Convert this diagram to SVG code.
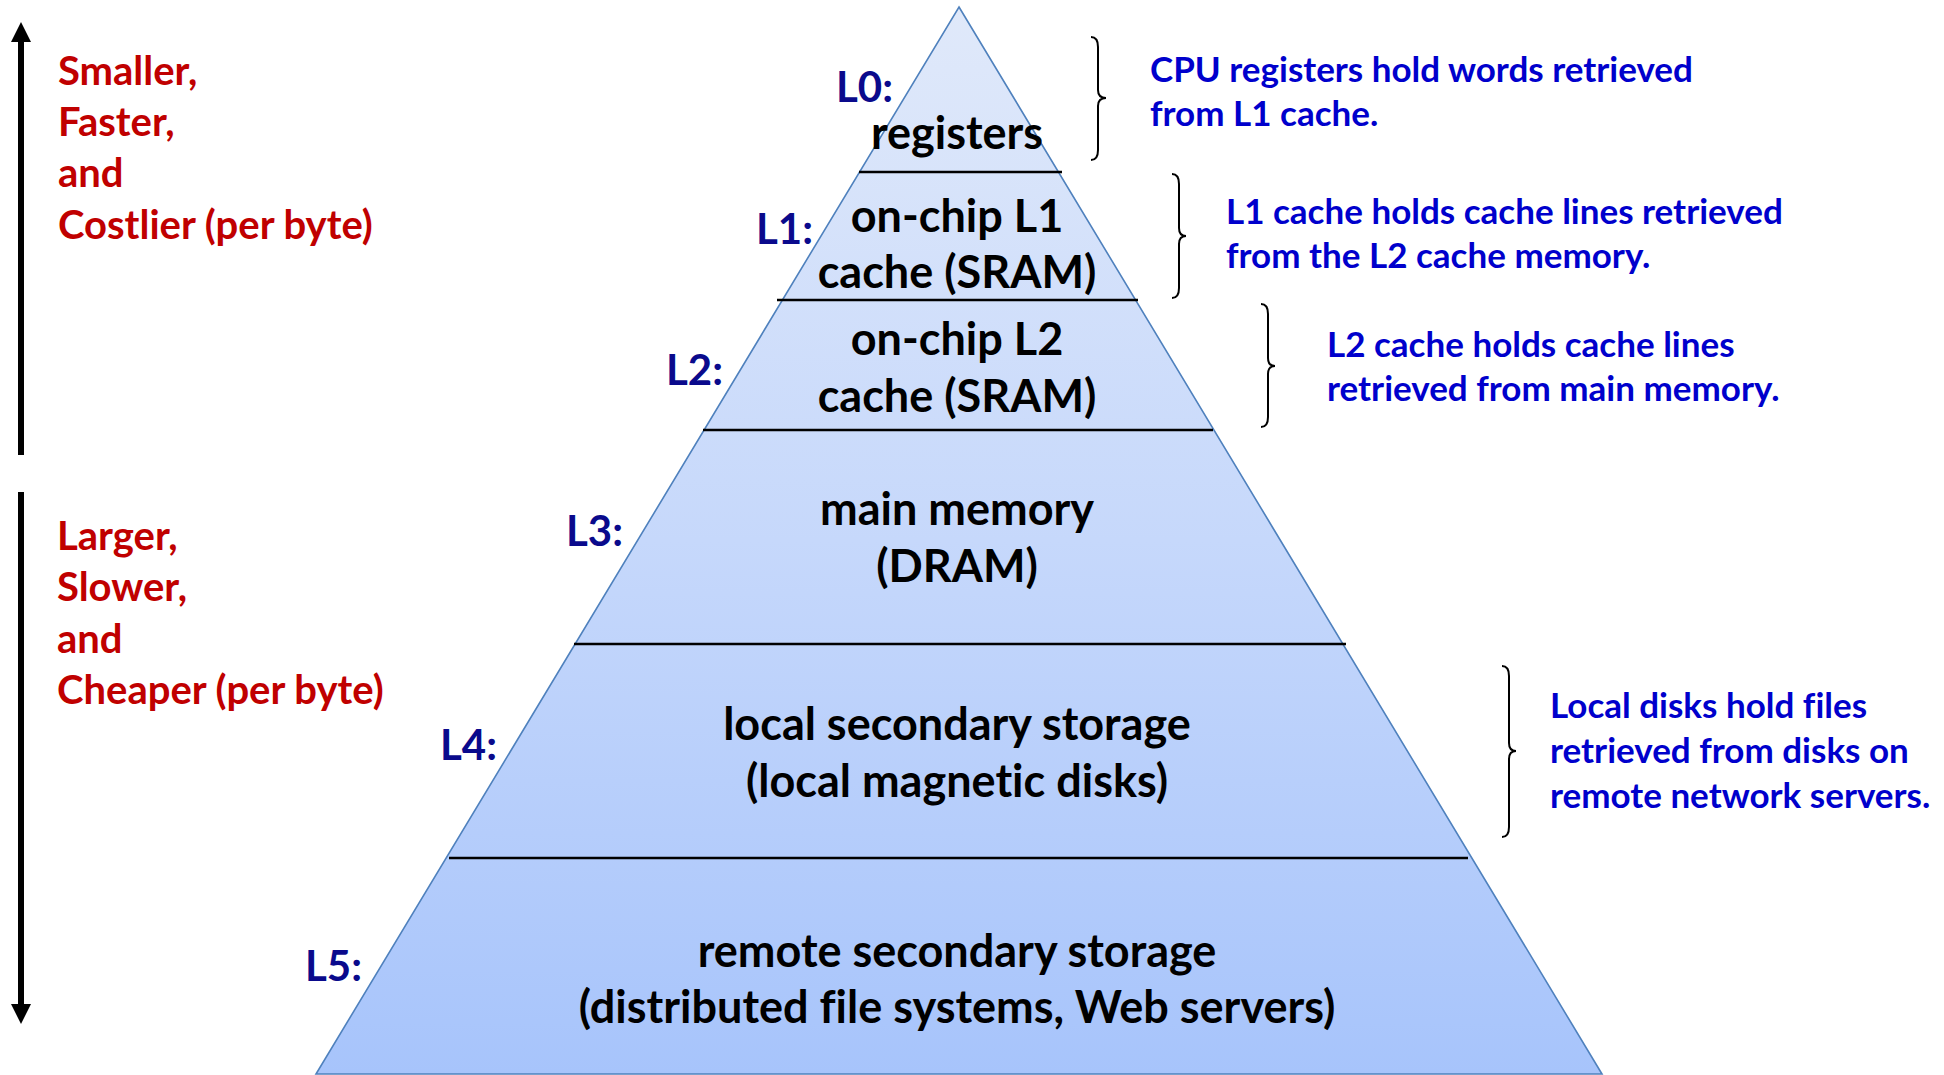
<svg xmlns="http://www.w3.org/2000/svg" width="1944" height="1075" viewBox="0 0 1944 1075">
<defs>
<linearGradient id="pg" gradientUnits="userSpaceOnUse" x1="0" y1="7" x2="0" y2="1074">
<stop offset="0" stop-color="#e0e9fa"/>
<stop offset="0.5" stop-color="#c6d8fb"/>
<stop offset="1" stop-color="#a7c4fb"/>
</linearGradient>
<marker id="ah" viewBox="0 0 20 20" refX="0" refY="10" markerWidth="20" markerHeight="20" markerUnits="userSpaceOnUse" orient="auto">
<path d="M0,0 L20,10 L0,20 Z" fill="#000"/>
</marker>
<style>
.t{font-family:Lato,"Open Sans","Liberation Sans",sans-serif;font-weight:700;font-variant-ligatures:none;font-feature-settings:"liga" 0,"clig" 0}
.blk{font-size:45px;fill:#000;text-anchor:middle}
.lvl{font-size:42px;fill:#0a0a8c}
.red{font-size:40px;fill:#c00000}
.blu{font-size:35px;fill:#0000cc}
.div{stroke:#000;stroke-width:2.5}
.br{fill:none;stroke:#000;stroke-width:2}
</style>
</defs>
<g id="pyramid">
<polygon points="959,7 1602,1074 316,1074" fill="url(#pg)" stroke="#4f81bd" stroke-width="1.6"/>
</g>
<g id="L0" class="t">
<text class="lvl" x="836" y="102">L0:</text>
<text class="blk" x="957" y="149">registers</text>
</g>
<g id="L1" class="t">
<line class="div" x1="859" y1="172" x2="1062" y2="172"/>
<text class="lvl" x="756" y="244">L1:</text>
<text class="blk" x="957" y="232">on-chip L1</text>
<text class="blk" x="957" y="288">cache (SRAM)</text>
</g>
<g id="L2" class="t">
<line class="div" x1="777" y1="300" x2="1138" y2="300"/>
<text class="lvl" x="666" y="385">L2:</text>
<text class="blk" x="957" y="355">on-chip L2</text>
<text class="blk" x="957" y="412">cache (SRAM)</text>
</g>
<g id="L3" class="t">
<line class="div" x1="703" y1="430" x2="1213" y2="430"/>
<text class="lvl" x="566" y="546">L3:</text>
<text class="blk" x="957" y="525">main memory</text>
<text class="blk" x="957" y="582">(DRAM)</text>
</g>
<g id="L4" class="t">
<line class="div" x1="574" y1="644" x2="1346" y2="644"/>
<text class="lvl" x="440" y="760">L4:</text>
<text class="blk" x="957" y="740">local secondary storage</text>
<text class="blk" x="957" y="797">(local magnetic disks)</text>
</g>
<g id="L5" class="t">
<line class="div" x1="449" y1="858" x2="1468" y2="858"/>
<text class="lvl" x="305" y="981">L5:</text>
<text class="blk" x="957" y="967">remote secondary storage</text>
<text class="blk" x="957" y="1023">(distributed file systems, Web servers)</text>
</g>
<g id="left-labels" class="t">
<text class="red" x="58" y="85">Smaller,</text>
<text class="red" x="58" y="136">Faster,</text>
<text class="red" x="58" y="187">and</text>
<text class="red" x="58" y="239">Costlier (per byte)</text>
<text class="red" x="57" y="550">Larger,</text>
<text class="red" x="57" y="601">Slower,</text>
<text class="red" x="57" y="653">and</text>
<text class="red" x="57" y="704">Cheaper (per byte)</text>
</g>
<g id="notes" class="t">
<text class="blu" x="1150" y="82">CPU registers hold words retrieved</text>
<text class="blu" x="1150" y="126">from L1 cache.</text>
<text class="blu" x="1226" y="224">L1 cache holds cache lines retrieved</text>
<text class="blu" x="1226" y="268">from the L2 cache memory.</text>
<text class="blu" x="1327" y="357">L2 cache holds cache lines</text>
<text class="blu" x="1327" y="401">retrieved from main memory.</text>
<text class="blu" x="1550" y="718">Local disks hold files</text>
<text class="blu" x="1550" y="763">retrieved from disks on</text>
<text class="blu" x="1550" y="808">remote network servers.</text>
</g>
<g id="connectors">
<line x1="21" y1="455" x2="21" y2="42" stroke="#000" stroke-width="6" marker-end="url(#ah)"/>
<line x1="21" y1="492" x2="21" y2="1004" stroke="#000" stroke-width="6" marker-end="url(#ah)"/>
<path class="br" d="M1091,37 Q1098,37 1098,47 L1098,90 Q1098,98 1106,98 Q1098,98 1098,106 L1098,150 Q1098,160 1091,160"/>
<path class="br" d="M1172,174 Q1179,174 1179,184 L1179,228 Q1179,236 1186,236 Q1179,236 1179,244 L1179,288 Q1179,298 1172,298"/>
<path class="br" d="M1261,304 Q1268,304 1268,314 L1268,358 Q1268,366 1275,366 Q1268,366 1268,374 L1268,417 Q1268,427 1261,427"/>
<path class="br" d="M1502,666 Q1509,666 1509,676 L1509,743 Q1509,751 1516,751 Q1509,751 1509,759 L1509,827 Q1509,837 1502,837"/>
</g>
</svg>
